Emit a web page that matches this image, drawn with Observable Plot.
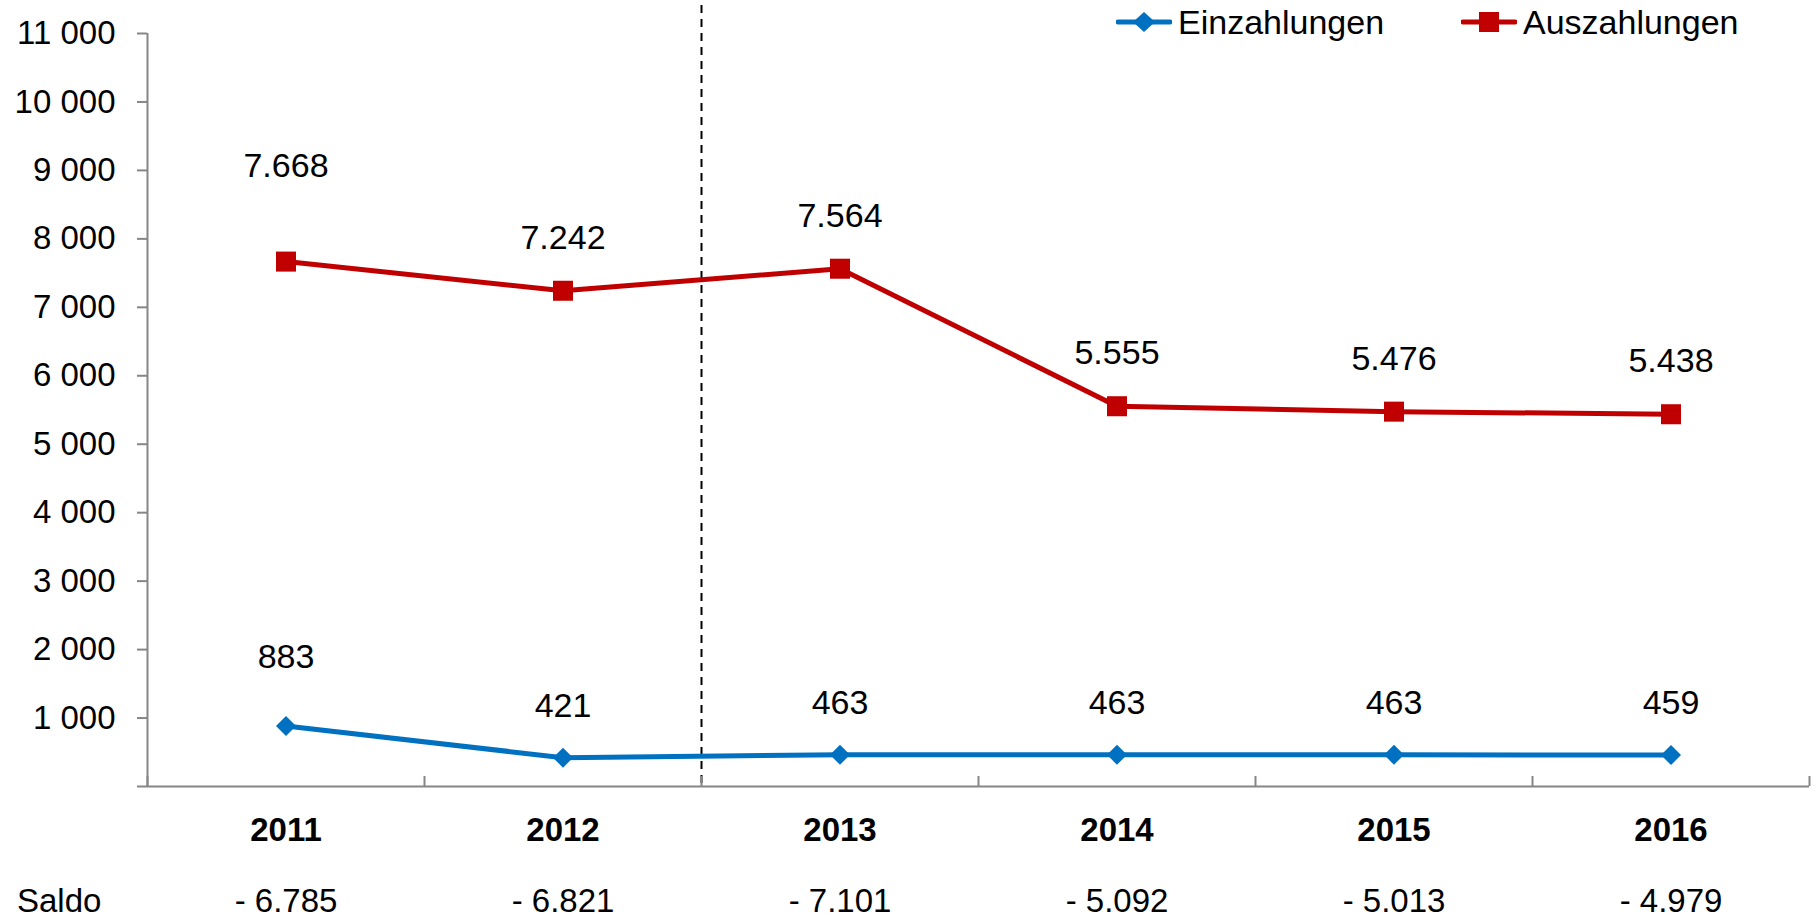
<!DOCTYPE html>
<html>
<head>
<meta charset="utf-8">
<script src="https://cdn.jsdelivr.net/npm/d3@7"></script>
<script src="https://cdn.jsdelivr.net/npm/@observablehq/plot@0.6"></script>
<style>
  html, body { margin: 0; padding: 0; background: #fff; }
  #wrap { position: relative; width: 1817px; height: 917px; font-family: "Liberation Sans", Arial, sans-serif; }
  .leg { position: absolute; top: 0; height: 44px; display: flex; align-items: center; font-size: 34px; color: #000; line-height: 34px; }
  .leg svg { margin-right: 6px; }
  #saldo { position: absolute; left: 17px; top: 884px; font-size: 33px; line-height: 33px; color: #000; }
</style>
</head>
<body>
<div id="wrap"></div>
<script>
// ---- data ----
const years = [2011, 2012, 2013, 2014, 2015, 2016];
const einzahlungen = [883, 421, 463, 463, 463, 459];
const auszahlungen = [7668, 7242, 7564, 5555, 5476, 5438];
const saldo = [-6785, -6821, -7101, -5092, -5013, -4979];
const yTicks = [0, 1000, 2000, 3000, 4000, 5000, 6000, 7000, 8000, 9000, 10000, 11000];
const seriesNames = ["Einzahlungen", "Auszahlungen"];

// ---- styles ----
const BLUE = "#0070C0";
const RED = "#C00000";
const GRAY = "#868686";
const FONT = "Liberation Sans, Arial, sans-serif";

const ein = years.map((year, i) => ({year, value: einzahlungen[i]}));
const aus = years.map((year, i) => ({year, value: auszahlungen[i]}));
const boundaries = [years[0] - 0.5, ...years.map(y => y + 0.5)];
const split = 2012.5; // boundary between 2012 and 2013

const spaceFmt = d3.formatLocale({thousands: " ", grouping: [3], decimal: ","}).format(",d");
const dotFmt = d3.formatLocale({thousands: ".", grouping: [3], decimal: ","}).format(",d");
const saldoFmt = v => "- " + dotFmt(Math.abs(v));

const chart = Plot.plot({
  width: 1817,
  height: 917,
  marginLeft: 147,
  marginRight: 8,
  marginTop: 5,
  marginBottom: 131,
  style: {fontFamily: FONT, background: "white", color: "black", overflow: "visible"},
  x: {type: "linear", domain: [years[0] - 0.5, years[years.length - 1] + 0.5], label: null, axis: null},
  y: {domain: [0, 11000], range: [786, 33], label: null, axis: null},
  marks: [
    // dashed separator
    Plot.ruleX([split], {stroke: "black", strokeWidth: 2, strokeDasharray: "8,6"}),
    // axes lines
    Plot.ruleY([0], {stroke: GRAY, strokeWidth: 2}),
    Plot.ruleX([boundaries[0]], {y1: 0, y2: 11000, stroke: GRAY, strokeWidth: 2}),
    Plot.axisY({ticks: yTicks, tickSize: 10, tickPadding: 22, stroke: GRAY, strokeWidth: 2, fill: "black",
      fontSize: 33, tickFormat: d => d === 0 ? "" : spaceFmt(d), label: null}),
    // category boundary ticks (pointing up)
    Plot.axisX({ticks: boundaries, tickSize: 10, dy: -10, stroke: GRAY, strokeWidth: 2, tickFormat: () => "", label: null}),
    // year labels
    Plot.axisX({ticks: years, tickSize: 0, tickPadding: 31, fontSize: 33, fontWeight: "bold", fill: "black",
      tickFormat: d => String(d), label: null}),
    // saldo row
    Plot.axisX({ticks: years, tickSize: 0, tickPadding: 102, fontSize: 33, fill: "black",
      tickFormat: d => saldoFmt(saldo[years.indexOf(d)]), label: null}),
    // lines
    Plot.line(aus, {x: "year", y: "value", stroke: RED, strokeWidth: 5}),
    Plot.line(ein, {x: "year", y: "value", stroke: BLUE, strokeWidth: 5}),
    Plot.dot(aus, {x: "year", y: "value", symbol: "square", r: 11.3, fill: RED}),
    Plot.dot(ein, {x: "year", y: "value", symbol: "diamond2", r: 9, fill: BLUE}),
    // value labels
    Plot.text(aus.slice(0, 1), {x: "year", y: "value", text: d => dotFmt(d.value), dy: -95, fontSize: 34, fill: "black"}),
    Plot.text(aus.slice(1), {x: "year", y: "value", text: d => dotFmt(d.value), dy: -53, fontSize: 34, fill: "black"}),
    Plot.text(ein.slice(0, 1), {x: "year", y: "value", text: d => dotFmt(d.value), dy: -69, fontSize: 34, fill: "black"}),
    Plot.text(ein.slice(1), {x: "year", y: "value", text: d => dotFmt(d.value), dy: -52, fontSize: 34, fill: "black"})
  ]
});

const wrap = document.getElementById("wrap");
wrap.appendChild(chart);

// legend (overlaid at top right, as in the original)
function legendItem(name, color, symbol, left) {
  const div = document.createElement("div");
  div.className = "leg";
  div.style.left = left + "px";
  const marker = symbol === "square"
    ? `<rect x="18" y="12" width="20" height="20" fill="${color}"/>`
    : `<path d="M28,12 L39,22 L28,32 L17,22 Z" fill="${color}"/>`;
  div.innerHTML = `<svg width="56" height="44"><line x1="2" y1="22" x2="54" y2="22" stroke="${color}" stroke-width="5" stroke-linecap="round"/>${marker}</svg><span>${name}</span>`;
  wrap.appendChild(div);
}
legendItem(seriesNames[0], BLUE, "diamond", 1116);
legendItem(seriesNames[1], RED, "square", 1461);

const s = document.createElement("div");
s.id = "saldo";
s.textContent = "Saldo";
wrap.appendChild(s);
</script>
</body>
</html>
